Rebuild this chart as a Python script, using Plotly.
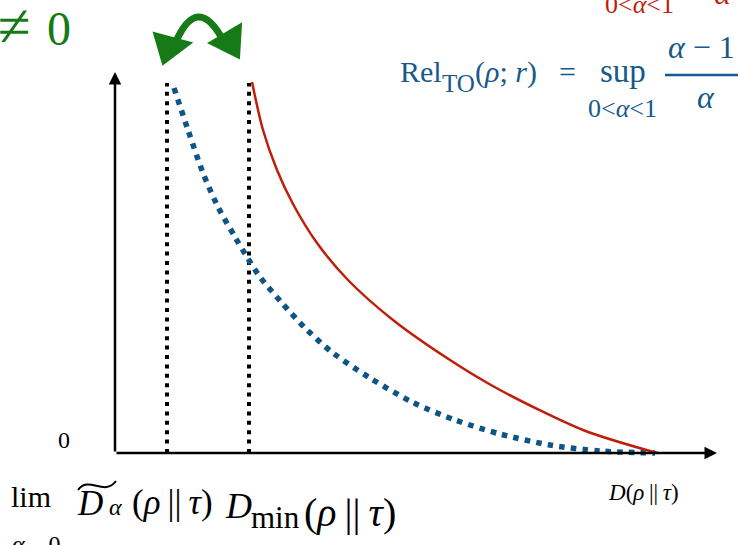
import plotly.graph_objects as go

W, H = 738, 545
OX, OY, S = 115, 453, 100.0   # origin pixel and pixels per unit

# ---- data (units of the drawing) ----
red_x = [1.37, 1.48, 1.62, 1.78, 2.02, 2.33, 2.78, 3.35, 3.85, 4.68, 5.35, 5.43]
red_y = [3.71, 3.23, 2.83, 2.49, 2.10, 1.73, 1.33, 0.93, 0.63, 0.23, 0.02, 0.0]
blue_x = [0.59, 0.73, 0.88, 1.03, 1.20, 1.32, 1.45, 1.67, 1.92, 2.18, 2.55, 2.97, 3.40, 3.85, 4.35, 4.85, 5.40]
blue_y = [3.65, 3.23, 2.80, 2.46, 2.16, 1.96, 1.76, 1.50, 1.23, 1.00, 0.75, 0.51, 0.33, 0.19, 0.08, 0.02, 0.0]
vline_x = [0.52, 1.34]
vline_top = 3.70
x_axis_end = 6.02
y_axis_end = 3.81

RED = "#BF1E0A"
BLUE = "#0E5485"
BLUE_T = "#17598C"
GREEN = "#167A16"
FONT = "Liberation Serif"
TS = "\u2009"  # thin space


def px(xp):
    return xp / W


def py(yp):
    return 1 - yp / H


fig = go.Figure()

for xv in vline_x:
    fig.add_trace(go.Scatter(x=[xv, xv], y=[0, vline_top], mode="lines",
                             line=dict(color="black", width=4, dash="4px,5.4px"),
                             hoverinfo="skip", showlegend=False))

fig.add_trace(go.Scatter(x=blue_x, y=blue_y, mode="lines",
                         line=dict(color=BLUE, width=5.5, dash="5.5px,6.2px",
                                   shape="spline", smoothing=0.8),
                         hoverinfo="skip", showlegend=False))
fig.add_trace(go.Scatter(x=red_x, y=red_y, mode="lines",
                         line=dict(color=RED, width=2.5, shape="spline", smoothing=0.8),
                         hoverinfo="skip", showlegend=False))

ann = []
# axes with arrow heads
for (tx, ty) in [(x_axis_end, 0), (0, y_axis_end)]:
    ann.append(dict(x=tx, y=ty, ax=0, ay=0, xref="x", yref="y", axref="x", ayref="y",
                    text="", showarrow=True, arrowhead=2, arrowsize=1, arrowwidth=2.5,
                    arrowcolor="black", standoff=0, startstandoff=0))


def txt(s, x, base, size, color="black", xanchor="left"):
    # place text so its baseline sits at pixel row `base`
    top = base - 0.891 * size
    ann.append(dict(text=s, x=px(x), y=py(top), xref="paper", yref="paper",
                    xanchor=xanchor, yanchor="top", showarrow=False,
                    borderpad=0, borderwidth=0,
                    font=dict(family=FONT, size=size, color=color)))


# green "≠ 0"
txt("≠", -2, 46, 60, GREEN)
txt("0", 47, 45, 48, GREEN)

# blue formula
txt("Rel", 400, 82, 30, BLUE_T)
txt("TO", 442, 92, 25, BLUE_T)
txt("(<i>ρ</i>; <i>r</i>)", 475, 82, 30, BLUE_T)
txt("=", 559, 82, 30, BLUE_T)
txt("sup", 600, 82, 33, BLUE_T)
txt("0&lt;<i>α</i>&lt;1", 588, 117, 26, BLUE_T)
txt("<i>α</i> − 1", 668, 58, 32, BLUE_T)
txt("<i>α</i>", 706, 108, 32, BLUE_T, "center")
# red formula (cropped at the top)
txt("0&lt;<i>α</i>&lt;1", 605, 13, 26, RED)
txt("<i>α</i>", 723, 4, 32, RED, "center")

# axis labels
txt("0", 64, 448, 24, "black", "center")
txt(f"<i>D</i>(<i>ρ</i>{TS}||{TS}<i>τ</i>)", 643, 500, 23, "black", "center")

# bottom labels
txt("lim", 11, 507, 30)
txt("<i>α</i>→0", 12, 552, 24)
txt("<i>D</i>", 77, 515, 35)
txt("<i>α</i>", 109, 515, 24)
txt(f"(<i>ρ</i>{TS}||{TS}<i>τ</i>)", 132, 514, 35)
txt("<i>D</i>", 225, 518, 36)
txt("min", 251, 528, 31)
txt(f"(<i>ρ</i>{TS}||{TS}<i>τ</i>)", 304, 526, 40)

shapes = []


def path(points, close=False):
    d = "M " + " L ".join(f"{px(a):.5f},{py(b):.5f}" for a, b in points)
    return d + (" Z" if close else "")


# fraction bar
shapes.append(dict(type="line", xref="paper", yref="paper", x0=px(665), x1=px(745),
                   y0=py(75), y1=py(75), line=dict(color=BLUE_T, width=2.5)))
# tilde over D
shapes.append(dict(type="path", xref="paper", yref="paper",
                   path=f"M {px(78):.5f},{py(490):.5f} C {px(89):.5f},{py(475):.5f} {px(104):.5f},{py(497):.5f} {px(116):.5f},{py(481):.5f}",
                   line=dict(color="black", width=2)))
# green curved double arrow
shapes.append(dict(type="path", xref="paper", yref="paper",
                   path=f"M {px(174):.5f},{py(46):.5f} Q {px(197):.5f},{py(-10):.5f} {px(224):.5f},{py(42):.5f}",
                   line=dict(color=GREEN, width=7)))
shapes.append(dict(type="path", xref="paper", yref="paper",
                   path=path([(154, 33), (191, 43), (163, 64)], True),
                   fillcolor=GREEN, line=dict(color=GREEN, width=2)))
shapes.append(dict(type="path", xref="paper", yref="paper",
                   path=path([(209, 43), (241, 24), (239, 58)], True),
                   fillcolor=GREEN, line=dict(color=GREEN, width=2)))

fig.update_layout(
    width=W, height=H, margin=dict(l=0, r=0, t=0, b=0),
    paper_bgcolor="white", plot_bgcolor="white",
    xaxis=dict(range=[(0 - OX) / S, (W - OX) / S], visible=False, fixedrange=True),
    yaxis=dict(range=[(OY - H) / S, OY / S], visible=False, fixedrange=True),
    annotations=ann, shapes=shapes, showlegend=False,
)

fig.write_html("out.html", config={"displayModeBar": False},
               post_script="document.body.style.margin='0';document.body.style.overflow='hidden';")
